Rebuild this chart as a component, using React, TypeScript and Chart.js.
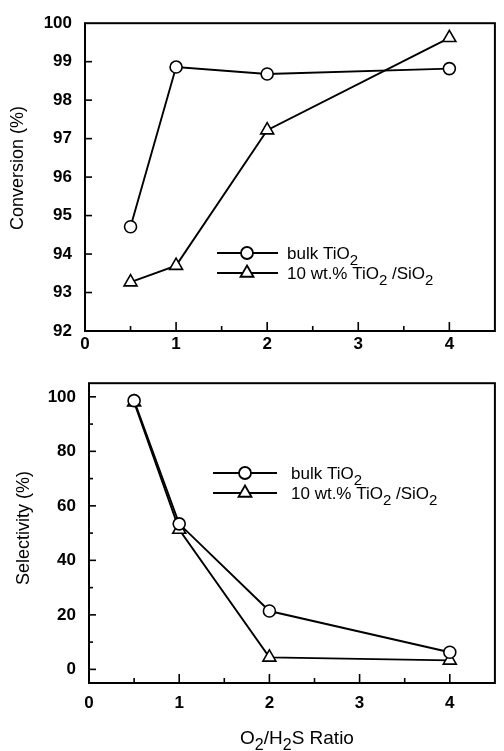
import React, { useEffect, useRef } from 'react';
import { Chart, registerables } from 'chart.js';

Chart.register(...registerables);

// ---------- data ----------
const ratios = [0.5, 1, 2, 4];
const conversionBulk = [94.71, 98.86, 98.68, 98.82];
const conversionSupported = [93.27, 93.7, 97.22, 99.62];
const selectivityBulk = [98.6, 53.4, 21.4, 6.3];
const selectivitySupported = [98.0, 51.3, 4.4, 3.3];

const xTickValues = [0, 1, 2, 3, 4];
const xMinorTicks = [0.5, 1.5, 2.5, 3.5];
const conversionTicks = [92, 93, 94, 95, 96, 97, 98, 99, 100];
const selectivityTicks = [0, 20, 40, 60, 80, 100];
const selectivityMinorTicks = [10, 30, 50, 70, 90];

const seriesBulk = [['bulk TiO', false], ['2', true]] as [string, boolean][];
const seriesSupported = [
  ['10 wt.% TiO', false],
  ['2', true],
  [' /SiO', false],
  ['2', true],
] as [string, boolean][];
const xTitleParts = [['O', false], ['2', true], ['/H', false], ['2', true], ['S Ratio', false]] as [string, boolean][];

const FONT = '"Liberation Sans", Arial, Helvetica, sans-serif';

function drawRich(ctx: CanvasRenderingContext2D, parts: [string, boolean][], x: number, y: number, size: number, subSize: number, subDrop: number, align: string) {
  let total = 0;
  for (const [t, sub] of parts) {
    ctx.font = `${sub ? subSize : size}px ${FONT}`;
    total += ctx.measureText(t).width;
  }
  let cx = align === 'center' ? x - total / 2 : x;
  ctx.textAlign = 'left';
  ctx.textBaseline = 'alphabetic';
  for (const [t, sub] of parts) {
    ctx.font = `${sub ? subSize : size}px ${FONT}`;
    ctx.fillText(t, cx, sub ? y + subDrop : y);
    cx += ctx.measureText(t).width;
  }
}

function drawMarker(ctx: CanvasRenderingContext2D, style: string, x: number, y: number, r: number) {
  ctx.beginPath();
  if (style === 'circle') {
    ctx.arc(x, y, r, 0, Math.PI * 2);
  } else {
    let rad = 0;
    ctx.moveTo(x + Math.sin(rad) * r, y - Math.cos(rad) * r);
    rad += (Math.PI * 2) / 3;
    ctx.lineTo(x + Math.sin(rad) * r, y - Math.cos(rad) * r);
    rad += (Math.PI * 2) / 3;
    ctx.lineTo(x + Math.sin(rad) * r, y - Math.cos(rad) * r);
    ctx.closePath();
  }
  ctx.fillStyle = '#fff';
  ctx.fill();
  ctx.stroke();
}

const decorPlugin = {
  id: 'decor',
  beforeDatasetsDraw(chart: any, _args: any, opts: any) {
    const { ctx, chartArea: a, scales } = chart;
    ctx.save();
    ctx.strokeStyle = '#000';
    ctx.lineWidth = 2;
    ctx.strokeRect(a.left, a.top, a.right - a.left, a.bottom - a.top);
    ctx.lineWidth = 1.6;
    const line = (x1: number, y1: number, x2: number, y2: number) => {
      ctx.beginPath();
      ctx.moveTo(x1, y1);
      ctx.lineTo(x2, y2);
      ctx.stroke();
    };
    for (const v of opts.xMajor) {
      const x = scales.x.getPixelForValue(v);
      if (x > a.left + 1) line(x, a.bottom, x, a.bottom - 9);
    }
    for (const v of opts.xMinor) {
      const x = scales.x.getPixelForValue(v);
      line(x, a.bottom, x, a.bottom - 5);
    }
    for (const v of opts.yMajor) {
      const y = scales.y.getPixelForValue(v);
      if (y < a.bottom - 1 && y > a.top + 1) line(a.left, y, a.left + 7, y);
    }
    for (const v of opts.yMinor) {
      const y = scales.y.getPixelForValue(v);
      line(a.left, y, a.left + 4, y);
    }
    ctx.restore();
  },
  afterDraw(chart: any, _args: any, opts: any) {
    const { ctx } = chart;
    ctx.save();
    ctx.fillStyle = '#000';
    ctx.strokeStyle = '#000';
    // legend
    const lg = opts.legend;
    lg.rows.forEach((row: any, i: number) => {
      const y = lg.y + i * lg.gap;
      ctx.lineWidth = 1.8;
      ctx.beginPath();
      ctx.moveTo(lg.x0, y);
      ctx.lineTo(lg.x1, y);
      ctx.stroke();
      drawMarker(ctx, row.style, lg.xm, y, row.r);
      ctx.fillStyle = '#000';
      drawRich(ctx, row.parts, lg.tx, y + 6, 17, 15, 6, 'left');
    });
    // y title
    ctx.save();
    ctx.translate(opts.yTitle.x, opts.yTitle.y);
    ctx.rotate(-Math.PI / 2);
    ctx.font = `18px ${FONT}`;
    ctx.textAlign = 'center';
    ctx.textBaseline = 'middle';
    ctx.fillText(opts.yTitle.text, 0, 0);
    ctx.restore();
    if (opts.xTitle) {
      drawRich(ctx, opts.xTitle.parts, opts.xTitle.x, opts.xTitle.y, 19, 16, 6, 'center');
    }
    ctx.restore();
  },
};

function makeConfig(p: any) {
  return {
    type: 'line',
    data: {
      datasets: [
        {
          label: 'bulk TiO2',
          data: ratios.map((x, i) => ({ x, y: p.bulk[i] })),
          borderColor: '#000',
          backgroundColor: '#fff',
          borderWidth: 1.9,
          pointStyle: 'circle',
          pointRadius: 6,
          pointBorderWidth: 1.6,
          pointBackgroundColor: '#fff',
          pointBorderColor: '#000',
          tension: 0,
        },
        {
          label: '10 wt.% TiO2 /SiO2',
          data: ratios.map((x, i) => ({ x, y: p.supported[i] })),
          borderColor: '#000',
          backgroundColor: '#fff',
          borderWidth: 1.9,
          pointStyle: 'triangle',
          pointRadius: 7.5,
          pointBorderWidth: 1.6,
          pointBackgroundColor: '#fff',
          pointBorderColor: '#000',
          tension: 0,
        },
      ],
    },
    options: {
      animation: false,
      responsive: false,
      devicePixelRatio: 1,
      layout: { padding: p.padding },
      plugins: {
        legend: { display: false },
        tooltip: { enabled: false },
        decor: {
          xMajor: xTickValues,
          xMinor: xMinorTicks,
          yMajor: p.yTicks,
          yMinor: p.yMinor,
          legend: p.legend,
          yTitle: p.yTitle,
          xTitle: p.xTitle,
        },
      },
      scales: {
        x: {
          type: 'linear',
          min: 0,
          max: 4.5,
          afterBuildTicks: (s: any) => {
            s.ticks = xTickValues.map((v) => ({ value: v }));
          },
          afterFit: (s: any) => {
            s.height = p.xHeight;
          },
          grid: { display: false, drawTicks: false },
          border: { display: false },
          ticks: {
            color: '#000',
            font: { family: FONT, size: 17, weight: 'bold' },
            padding: p.xPad,
            maxRotation: 0,
            autoSkip: false,
          },
        },
        y: {
          type: 'linear',
          min: p.yMin,
          max: p.yMax,
          afterBuildTicks: (s: any) => {
            s.ticks = p.yTicks.map((v: number) => ({ value: v }));
          },
          afterFit: (s: any) => {
            s.width = p.yWidth;
          },
          grid: { display: false, drawTicks: false },
          border: { display: false },
          ticks: {
            color: '#000',
            font: { family: FONT, size: 17, weight: 'bold' },
            padding: 13,
            autoSkip: false,
          },
        },
      },
    },
    plugins: [decorPlugin],
  } as any;
}

export default function App() {
  const topRef = useRef<HTMLCanvasElement>(null);
  const botRef = useRef<HTMLCanvasElement>(null);

  useEffect(() => {
    const top = new Chart(
      topRef.current as HTMLCanvasElement,
      makeConfig({
        bulk: conversionBulk,
        supported: conversionSupported,
        yMin: 92,
        yMax: 100,
        yTicks: conversionTicks,
        yMinor: [],
        padding: { top: 15, right: 7, left: 0, bottom: 0 },
        xHeight: 29,
        xPad: 3,
        yWidth: 85,
        legend: {
          x0: 217,
          x1: 278,
          xm: 247,
          tx: 287,
          y: 253,
          gap: 20,
          rows: [
            { style: 'circle', r: 6, parts: seriesBulk },
            { style: 'triangle', r: 7.5, parts: seriesSupported },
          ],
        },
        yTitle: { text: 'Conversion (%)', x: 18, y: 168 },
        xTitle: null,
      })
    );
    const bot = new Chart(
      botRef.current as HTMLCanvasElement,
      makeConfig({
        bulk: selectivityBulk,
        supported: selectivitySupported,
        yMin: -5,
        yMax: 105,
        yTicks: selectivityTicks,
        yMinor: selectivityMinorTicks,
        padding: { top: 11, right: 2, left: 0, bottom: 0 },
        xHeight: 68,
        xPad: 10,
        yWidth: 89,
        legend: {
          x0: 213,
          x1: 277,
          xm: 245,
          tx: 291,
          y: 113,
          gap: 20,
          rows: [
            { style: 'circle', r: 6, parts: seriesBulk },
            { style: 'triangle', r: 7.5, parts: seriesSupported },
          ],
        },
        yTitle: { text: 'Selectivity (%)', x: 24, y: 168 },
        xTitle: { parts: xTitleParts, x: 297, y: 384 },
      })
    );
    return () => {
      top.destroy();
      bot.destroy();
    };
  }, []);

  return (
    <div style={{ position: 'absolute', left: 0, top: 0, width: 504, height: 751, background: '#fff' }}>
      <canvas ref={topRef} width={504} height={360} style={{ display: 'block', width: 504, height: 360 }} />
      <canvas ref={botRef} width={504} height={391} style={{ display: 'block', width: 504, height: 391 }} />
    </div>
  );
}
